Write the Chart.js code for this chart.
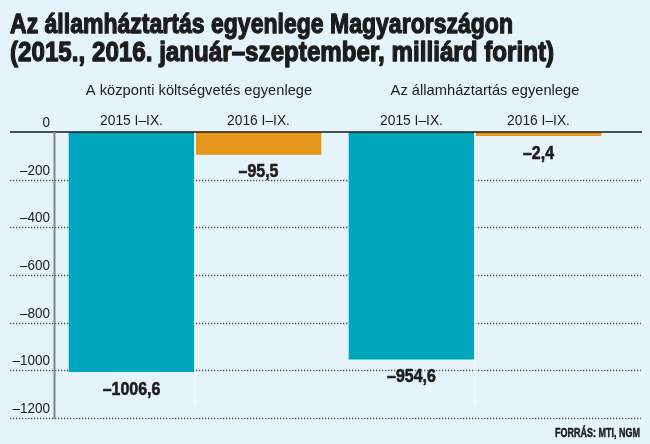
<!DOCTYPE html>
<html>
<head>
<meta charset="utf-8">
<script src="https://cdn.jsdelivr.net/npm/chart.js@4"></script>
<style>
  html, body { margin: 0; padding: 0; background: #e5f4fa; }
  canvas { display: block; }
</style>
</head>
<body>
<canvas id="chart" width="650" height="444"></canvas>
<script>
const titleLines = ['Az államháztartás egyenlege Magyarországon', '(2015., 2016. január–szeptember, milliárd forint)'];
const groups = ['A központi költségvetés egyenlege', 'Az államháztartás egyenlege'];
const periods = ['2015 I–IX.', '2016 I–IX.'];
const values2015 = [-1006.6, -954.6];
const values2016 = [-95.5, -2.4];
const yTicks = [0, -200, -400, -600, -800, -1000, -1200];
const source = 'FORRÁS: MTI, NGM';

const BG = '#e5f4fa';
const TEAL = '#00a6bb';
const ORANGE = '#e5971b';
const INK = '#1d1c1d';

function fmt(v) {
  return v.toFixed(1).replace('.', ',').replace('-', '–');
}
function tickFmt(v) {
  return String(v).replace('-', '–');
}

// draw text squeezed horizontally (condensed look) either by factor or to a width
// heavy > 0 adds an outline to fake a blacker weight
function drawText(ctx, text, x, y, font, align, sx, width, heavy) {
  ctx.save();
  ctx.font = font;
  const w = ctx.measureText(text).width;
  const s = width ? width / w : sx;
  let left = x;
  if (align === 'center') left = x - w * s / 2;
  if (align === 'right') left = x - w * s;
  ctx.translate(left, y);
  ctx.scale(s, 1);
  ctx.textAlign = 'left';
  if (heavy) {
    ctx.strokeStyle = ctx.fillStyle;
    ctx.lineWidth = heavy;
    ctx.lineJoin = 'round';
    ctx.strokeText(text, 0, 0);
  }
  ctx.fillText(text, 0, 0);
  ctx.restore();
}

const decor = {
  id: 'decor',
  beforeDraw(chart) {
    const ctx = chart.ctx;
    const y = chart.scales.y;
    const x = chart.scales.x;
    ctx.save();
    ctx.fillStyle = BG;
    ctx.fillRect(0, 0, chart.width, chart.height);

    ctx.fillStyle = INK;
    ctx.textBaseline = 'alphabetic';
    drawText(ctx, titleLines[0], 10, 33, 'bold 28px "Liberation Sans"', 'left', 1, 503, 1.3);
    drawText(ctx, titleLines[1], 10, 61, 'bold 28px "Liberation Sans"', 'left', 1, 544, 1.3);

    // dotted gridlines
    ctx.strokeStyle = '#55595b';
    ctx.lineWidth = 1.4;
    ctx.setLineDash([1.3, 1.7]);
    yTicks.forEach(t => {
      if (t === 0) return;
      const py = Math.round(y.getPixelForValue(t)) + 0.5;
      ctx.beginPath();
      ctx.moveTo(10, py);
      ctx.lineTo(641, py);
      ctx.stroke();
    });
    ctx.setLineDash([]);

    // tick labels
    ctx.fillStyle = INK;
    yTicks.forEach(t => {
      drawText(ctx, tickFmt(t), 50, y.getPixelForValue(t) - 5, '14.5px "Liberation Sans"', 'right', 0.93);
    });

    const y0 = y.getPixelForValue(0);
    groups.forEach((g, i) => {
      drawText(ctx, g, x.getPixelForValue(i) + 4 + i * 6, y0 - 37, '15px "Liberation Sans"', 'center', 0.98);
    });
    [0, 1].forEach(d => {
      chart.getDatasetMeta(d).data.forEach(bar => {
        drawText(ctx, periods[d], bar.x, y0 - 7, '14.5px "Liberation Sans"', 'center', 0.95);
      });
    });
    ctx.restore();
  },
  afterDatasetsDraw(chart) {
    const ctx = chart.ctx;
    const y = chart.scales.y;
    const x = chart.scales.x;
    const y0 = y.getPixelForValue(0);
    const yMin = y.getPixelForValue(-1200);
    ctx.save();

    // thin light separators between the two bars of each group
    ctx.strokeStyle = '#f6fbfd';
    ctx.lineWidth = 1.5;
    groups.forEach((g, i) => {
      const px = x.getPixelForValue(i);
      ctx.beginPath();
      ctx.moveTo(px, y0);
      ctx.lineTo(px, yMin - 12);
      ctx.stroke();
    });

    // zero line
    ctx.strokeStyle = '#1a1a1a';
    ctx.lineWidth = 1.5;
    ctx.beginPath();
    ctx.moveTo(10, y0);
    ctx.lineTo(642, y0);
    ctx.stroke();

    // vertical axis
    ctx.strokeStyle = '#808486';
    ctx.lineWidth = 2;
    ctx.beginPath();
    ctx.moveTo(54.5, y0);
    ctx.lineTo(54.5, yMin + 1);
    ctx.stroke();

    // value labels below bars
    ctx.fillStyle = INK;
    ctx.textBaseline = 'top';
    [0, 1].forEach(d => {
      const vals = chart.data.datasets[d].data;
      chart.getDatasetMeta(d).data.forEach((bar, i) => {
        drawText(ctx, fmt(vals[i]), bar.x, bar.y + 8, 'bold 19px "Liberation Sans"', 'center', 0.84, 0, 0.6);
      });
    });

    ctx.textBaseline = 'alphabetic';
    drawText(ctx, source, 640, 437, 'bold 12.5px "Liberation Sans"', 'right', 1, 85, 0.5);
    ctx.restore();
  }
};

new Chart(document.getElementById('chart'), {
  type: 'bar',
  data: {
    labels: groups,
    datasets: [{
      label: periods[0],
      data: values2015,
      backgroundColor: TEAL,
      borderWidth: 0
    }, {
      label: periods[1],
      data: values2016,
      backgroundColor: ORANGE,
      borderWidth: 0,
      minBarLength: 4
    }]
  },
  options: {
    responsive: false,
    animation: false,
    layout: {
      padding: { left: 55, right: 35, top: 132, bottom: 26 }
    },
    datasets: {
      bar: {
        categoryPercentage: 0.907,
        barPercentage: 0.99
      }
    },
    scales: {
      x: { display: false },
      y: { display: false, min: -1200, max: 0 }
    },
    plugins: {
      legend: { display: false },
      title: { display: false },
      tooltip: { enabled: false }
    }
  },
  plugins: [decor]
});
</script>
</body>
</html>
